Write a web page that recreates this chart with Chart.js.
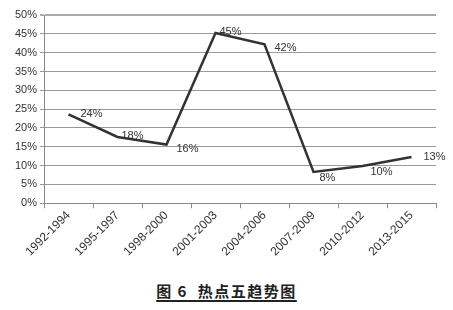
<!DOCTYPE html>
<html>
<head>
<meta charset="utf-8">
<script src="https://cdn.jsdelivr.net/npm/chart.js@4"></script>
<style>
  body { margin: 0; background: #fff; width: 453px; height: 310px; overflow: hidden; position: relative; }
  #wrap { position: absolute; left: 0; top: 0; width: 453px; height: 259px; }
  #caption {
    position: absolute; left: 0; width: 453px; top: 280px; text-align: center;
    font-family: "Noto Sans CJK SC", sans-serif; font-weight: bold; font-size: 15px;
    color: #222; letter-spacing: 1.5px;
  }
  #caption span { text-decoration: underline; text-decoration-thickness: 1.5px; text-underline-offset: 3px; }
</style>
</head>
<body>
<div id="wrap"><canvas id="lineDiagramm"></canvas></div>
<div id="caption"><span>图 6&nbsp; 热点五趋势图</span></div>
<script>
// periods
var periods = ['1992-1994', '1995-1997', '1998-2000', '2001-2003', '2004-2006', '2007-2009', '2010-2012', '2013-2015'];
// share of hotspot five (%)
var shares = [23.6, 17.6, 15.6, 45.2, 42.2, 8.3, 9.9, 12.3];
// labels as printed next to the points
var pointLabels = ['24%', '18%', '16%', '45%', '42%', '8%', '10%', '13%'];
var yTicks = [0, 5, 10, 15, 20, 25, 30, 35, 40, 45, 50];

// draws the % labels to the right of each point
var labelPlugin = {
    id: 'pointLabels',
    afterDatasetsDraw: function(chart) {
        var ctx = chart.ctx;
        var meta = chart.getDatasetMeta(0);
        var offs = [[12, 0], [4, -1], [10, 4], [4, -1], [10, 4], [6, 6], [8, 6], [12, 0]];
        ctx.save();
        ctx.font = '11px "Liberation Sans", sans-serif';
        ctx.fillStyle = '#333';
        ctx.textBaseline = 'middle';
        ctx.textAlign = 'left';
        meta.data.forEach(function(pt, i) {
            ctx.fillText(pointLabels[i], pt.x + offs[i][0], pt.y + offs[i][1]);
        });
        ctx.restore();
    }
};

var ctx1 = document.getElementById('lineDiagramm').getContext('2d');
var myLineChart1 = new Chart(ctx1, {
    type: 'line',
    data: {
        labels: periods,
        datasets: [{
            data: shares,
            borderColor: '#333',
            borderWidth: 2.5,
            pointRadius: 0,
            tension: 0,
            fill: false
        }]
    },
    options: {
        responsive: true,
        maintainAspectRatio: false,
        animation: false,
        events: [],
        layout: { padding: { top: 15, right: 17, left: 0, bottom: 0 } },
        plugins: {
            legend: { display: false },
            tooltip: { enabled: false }
        },
        scales: {
            x: {
                offset: true,
                grid: {
                    display: true,
                    drawOnChartArea: false,
                    offset: true,
                    tickLength: 5,
                    color: '#888'
                },
                border: { color: '#888' },
                ticks: {
                    maxRotation: 45,
                    minRotation: 45,
                    color: '#333',
                    font: { family: '"Liberation Sans", sans-serif', size: 12 },
                    padding: 0
                }
            },
            y: {
                min: 0,
                max: 50,
                afterBuildTicks: function(axis) {
                    axis.ticks = yTicks.map(function(v) { return { value: v }; });
                },
                afterFit: function(axis) { axis.width = 44; },
                grid: {
                    color: function(c) { return c.tick.value === 50 ? '#aaa' : '#999'; },
                    lineWidth: function(c) { return c.tick.value === 50 ? 2 : 1; },
                    tickLength: 4
                },
                border: { color: '#888' },
                ticks: {
                    color: '#333',
                    font: { family: '"Liberation Sans", sans-serif', size: 11 },
                    padding: 3,
                    callback: function(v) { return v + '%'; }
                }
            }
        }
    },
    plugins: [labelPlugin]
});
</script>
</body>
</html>
